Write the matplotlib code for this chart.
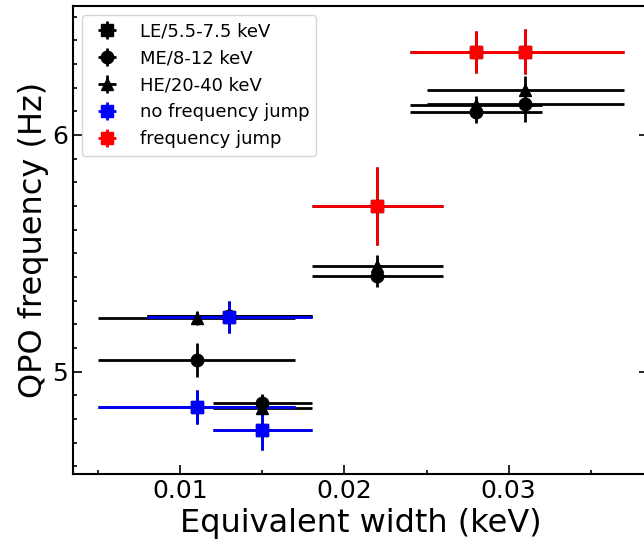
import matplotlib
matplotlib.use('Agg')
import matplotlib.pyplot as plt
from matplotlib.ticker import MultipleLocator

# equivalent width of each observation (keV) and its x error
ew = [0.011, 0.013, 0.015, 0.022, 0.028, 0.031]
ew_err = [0.006, 0.005, 0.003, 0.004, 0.004, 0.006]

# QPO frequency (Hz) per band
le_freq = [4.850, 5.232, 4.754, 5.700, 6.352, 6.352]
le_err = [0.070, 0.068, 0.087, 0.165, 0.089, 0.096]
me_freq = [5.049, 5.234, 4.867, 5.404, 6.098, 6.130]
me_err = [0.070, 0.040, 0.040, 0.045, 0.046, 0.074]
he_freq = [5.227, 5.233, 4.847, 5.447, 6.125, 6.192]
he_err = [0.030, 0.030, 0.040, 0.045, 0.040, 0.057]

no_jump = [0, 1, 2]
jump = [3, 4, 5]

def pick(vals, idx):
    return [vals[i] for i in idx]

plt.rcParams['font.family'] = 'DejaVu Sans'

fig = plt.figure(figsize=(6.44, 5.51), dpi=100)
ax = fig.add_axes([72.7/644, 1-474/551, (648.3-72.7)/644, (474-6)/551])

kw = dict(ls='none', ms=9, elinewidth=2)
ax.errorbar(ew, le_freq, xerr=ew_err, yerr=le_err, fmt='s', color='k', label='LE/5.5-7.5 keV', **kw)
ax.errorbar(ew, me_freq, xerr=ew_err, yerr=me_err, fmt='o', color='k', label='ME/8-12 keV', **kw)
ax.errorbar(ew, he_freq, xerr=ew_err, yerr=he_err, fmt='^', color='k', label='HE/20-40 keV', **kw)
ax.errorbar(pick(ew, no_jump), pick(le_freq, no_jump), xerr=pick(ew_err, no_jump),
            yerr=pick(le_err, no_jump), fmt='s', color='b', label='no frequency jump', **kw)
ax.errorbar(pick(ew, jump), pick(le_freq, jump), xerr=pick(ew_err, jump),
            yerr=pick(le_err, jump), fmt='s', color='r', label='frequency jump', **kw)

ax.set_xlim(0.00346, 0.0385)
ax.set_ylim(4.567, 6.545)

ax.xaxis.set_major_locator(MultipleLocator(0.01))
ax.xaxis.set_minor_locator(MultipleLocator(0.005))
ax.yaxis.set_major_locator(MultipleLocator(1))
ax.yaxis.set_minor_locator(MultipleLocator(0.1))

ax.tick_params(which='both', direction='in', labelsize=18, width=1.2)
ax.tick_params(which='major', length=6.5, right=True)
ax.tick_params(which='minor', length=3)
for s in ax.spines.values():
    s.set_linewidth(1.5)

ax.set_xlabel('Equivalent width (keV)', fontsize=23)
ax.set_ylabel('QPO frequency (Hz)', fontsize=23, labelpad=2)

ax.legend(loc='upper left', fontsize=13)

fig.savefig('out.png', dpi=100)
